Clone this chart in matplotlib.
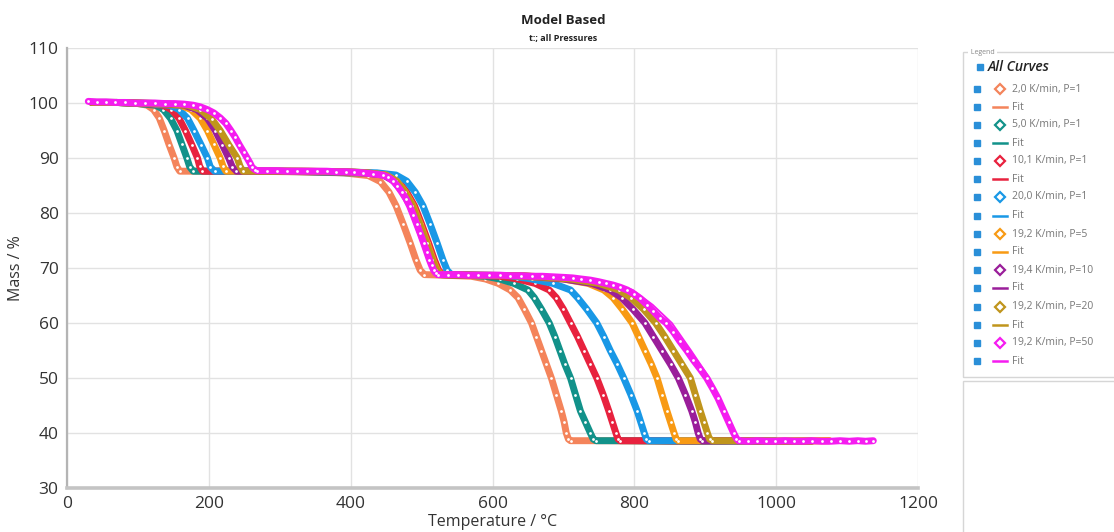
import matplotlib
matplotlib.use("Agg")
import matplotlib.pyplot as plt
from matplotlib.lines import Line2D
from matplotlib.patches import Rectangle

plt.rcParams["font.family"] = ["Open Sans", "DejaVu Sans"]

W, H = 1114, 532

# ── data (temperature °C, mass %) ───────────────────────────────────────────
T_2K_P1 = [35, 70, 100, 113, 122, 130, 137, 144, 151, 155, 159, 190, 250, 320, 390,
           425, 442, 454, 464, 474, 484, 492, 498, 504, 530,
           570, 590, 608, 625, 636, 645, 655, 662, 669, 676, 683, 690, 697, 701, 704, 707, 710,
           760, 850, 950, 1075]
M_2K_P1 = [100.1, 100.1, 99.9, 99.6, 98.8, 97.3, 95.0, 92.4, 90.0, 88.4, 87.6, 87.6, 87.6, 87.5, 87.3,
           86.8, 85.7, 83.8, 81.3, 78.0, 74.5, 71.5, 69.6, 68.8, 68.7,
           68.5, 68.0, 67.2, 66.0, 64.6, 62.5, 60.0, 57.5, 55.0, 52.5, 50.0, 47.0, 44.0, 42.0, 40.0, 38.9, 38.6,
           38.6, 38.5, 38.5, 38.6]

T_5K_P1 = [35, 70, 100, 125, 136, 146, 155, 162, 169, 173, 178, 210, 270, 340, 395,
           422, 449, 464, 476, 487, 497, 507, 515, 521, 527, 560,
           590, 610, 630, 650, 659, 669, 680, 688, 695, 702, 710, 717, 724, 731, 738, 742, 746,
           790, 880, 1000]
M_5K_P1 = [100.1, 100.1, 99.9, 99.6, 98.8, 97.2, 95.0, 92.5, 90.0, 88.4, 87.6, 87.6, 87.6, 87.5, 87.3,
           87.3, 86.9, 85.8, 83.8, 81.3, 78.0, 74.5, 71.5, 69.6, 68.8, 68.7,
           68.5, 68.0, 67.2, 66.0, 64.6, 62.5, 60.0, 57.5, 55.0, 52.5, 50.0, 47.0, 44.0, 42.0, 40.0, 38.9, 38.6,
           38.6, 38.5, 38.5]

T_10K_P1 = [35, 70, 110, 135, 147, 158, 167, 176, 184, 187, 191, 230, 290, 350, 400,
            425, 452, 467, 479, 490, 500, 510, 518, 524, 530, 570,
            610, 635, 660, 680, 690, 700, 710, 720, 729, 738, 747, 756, 764, 769, 774, 777, 780,
            830, 910, 1000]
M_10K_P1 = [100.1, 100.1, 99.9, 99.6, 98.8, 97.2, 95.0, 92.4, 90.0, 88.5, 87.6, 87.6, 87.6, 87.5, 87.4,
            87.3, 86.9, 85.8, 83.8, 81.3, 78.0, 74.5, 71.5, 69.6, 68.8, 68.7,
            68.5, 68.0, 67.2, 66.0, 64.6, 62.5, 60.0, 57.5, 55.0, 52.5, 50.0, 47.0, 44.0, 42.0, 40.0, 38.9, 38.6,
            38.6, 38.5, 38.5]

T_20K_P1 = [35, 70, 115, 145, 158, 170, 179, 189, 198, 202, 208, 240, 300, 360, 410,
            437, 464, 479, 491, 502, 512, 522, 530, 536, 542, 580,
            625, 655, 685, 710, 720, 733, 747, 757, 766, 776, 785, 795, 804, 809, 814, 817, 820,
            870, 940, 1000]
M_20K_P1 = [100.1, 100.1, 99.9, 99.6, 98.8, 97.2, 95.0, 92.4, 90.0, 88.4, 87.6, 87.6, 87.6, 87.5, 87.4,
            87.3, 86.9, 85.8, 83.8, 81.3, 78.0, 74.5, 71.5, 69.6, 68.8, 68.7,
            68.6, 68.0, 67.2, 66.0, 64.6, 62.5, 60.0, 57.5, 55.0, 52.5, 50.0, 47.0, 44.0, 42.0, 40.0, 38.9, 38.6,
            38.6, 38.5, 38.5]

T_19K_P5 = [35, 70, 120, 160, 175, 188, 198, 207, 216, 220, 224, 260, 320, 380, 410,
            423, 450, 465, 477, 488, 498, 508, 516, 522, 528, 570,
            630, 700, 735, 757, 770, 783, 797, 806, 815, 824, 832, 839, 846, 851, 856, 859, 862,
            920, 1000, 1075]
M_19K_P5 = [100.1, 100.1, 99.9, 99.6, 98.8, 97.2, 95.0, 92.5, 90.0, 88.5, 87.6, 87.6, 87.6, 87.5, 87.4,
            87.3, 86.9, 85.8, 83.8, 81.3, 78.0, 74.5, 71.5, 69.6, 68.8, 68.7,
            68.6, 68.0, 67.2, 66.0, 64.6, 62.5, 60.0, 57.5, 55.0, 52.5, 50.0, 47.0, 44.0, 42.0, 40.0, 38.9, 38.6,
            38.6, 38.5, 38.6]

T_19K_P10 = [35, 70, 125, 165, 183, 198, 209, 219, 228, 233, 239, 270, 330, 380, 405,
             419, 446, 461, 473, 484, 494, 504, 512, 518, 524, 570,
             640, 700, 740, 766, 782, 798, 815, 827, 839, 851, 862, 872, 881, 886, 890, 893, 896,
             950, 1000, 1050]
M_19K_P10 = [100.1, 100.1, 99.9, 99.6, 98.8, 97.2, 95.0, 92.4, 90.0, 88.4, 87.6, 87.6, 87.6, 87.5, 87.4,
             87.3, 86.9, 85.8, 83.8, 81.3, 78.0, 74.5, 71.5, 69.6, 68.8, 68.7,
             68.6, 68.0, 67.2, 66.0, 64.6, 62.5, 60.0, 57.5, 55.0, 52.5, 50.0, 47.0, 44.0, 42.0, 40.0, 38.9, 38.6,
             38.6, 38.5, 38.5]

T_19K_P20 = [35, 70, 130, 170, 188, 204, 216, 228, 240, 244, 248, 280, 340, 390, 410,
             422, 449, 464, 476, 487, 497, 507, 515, 521, 527, 570,
             645, 710, 750, 778, 795, 813, 830, 843, 855, 867, 879, 886, 893, 898, 903, 906, 910,
             960, 1010, 1050]
M_19K_P20 = [100.1, 100.1, 99.9, 99.6, 98.8, 97.1, 95.0, 92.4, 90.0, 88.5, 87.6, 87.6, 87.6, 87.5, 87.4,
             87.3, 86.9, 85.8, 83.8, 81.3, 78.0, 74.5, 71.5, 69.6, 68.8, 68.7,
             68.6, 68.0, 67.2, 66.0, 64.6, 62.5, 60.0, 57.5, 55.0, 52.5, 50.0, 47.0, 44.0, 42.0, 40.0, 38.9, 38.6,
             38.6, 38.5, 38.5]

T_19K_P50 = [30, 42, 55, 68, 82, 96, 110, 124, 138, 152, 165, 178, 188, 198, 207, 216, 224,
             231, 237, 243, 249, 254, 258, 261, 265, 268,
             282, 296, 310, 324, 338, 352, 366, 380, 393, 405, 418, 432, 445, 453, 460, 466,
             472, 478, 483, 488, 493, 498, 503, 507, 511, 514, 517, 520, 523,
             537, 551, 565, 580, 595, 610, 625, 640, 655, 670, 685, 700, 713, 725, 738, 750,
             760, 770, 780, 790, 799, 808, 818, 827, 836, 845, 855, 864, 874, 883, 893, 902,
             910, 918, 926, 933, 940, 944, 947,
             960, 973, 986, 999, 1012, 1025, 1038, 1051, 1064, 1077, 1090, 1103, 1115, 1126, 1137]
M_19K_P50 = [100.3, 100.2, 100.2, 100.1, 100.1, 100.0, 100.0, 100.0, 99.9, 99.9, 99.8, 99.6, 99.3, 98.8, 98.2, 97.3, 96.3,
             95.0, 93.8, 92.4, 91.1, 90.0, 89.1, 88.3, 87.9, 87.7,
             87.7, 87.7, 87.6, 87.6, 87.6, 87.6, 87.6, 87.5, 87.5, 87.4, 87.3, 87.1, 86.9, 86.5, 85.8, 84.9,
             83.8, 82.6, 81.3, 79.7, 78.0, 76.3, 74.5, 73.0, 71.5, 70.5, 69.6, 69.1, 68.8,
             68.8, 68.8, 68.7, 68.7, 68.7, 68.7, 68.6, 68.6, 68.5, 68.5, 68.4, 68.3, 68.2, 68.0, 67.8, 67.5,
             67.2, 66.9, 66.5, 66.0, 65.3, 64.5, 63.3, 62.1, 60.9, 60.0, 58.4, 56.7, 55.0, 53.3, 51.6, 50.0,
             48.2, 46.3, 44.0, 42.0, 40.0, 39.0, 38.6,
             38.5, 38.6, 38.5, 38.5, 38.6, 38.5, 38.5, 38.6, 38.5, 38.5, 38.6, 38.5, 38.6, 38.5, 38.6]

# fit of the P=50 run (runs slightly above the points in the last step)
T_FIT_P50 = [700, 725, 750, 775, 798, 826, 853, 880, 906, 928, 941, 947]
M_FIT_P50 = [68.5, 68.2, 67.7, 67.0, 66.0, 63.3, 60.0, 55.0, 50.0, 44.0, 40.0, 38.6]

LABELS = ["2,0 K/min, P=1", "5,0 K/min, P=1", "10,1 K/min, P=1", "20,0 K/min, P=1",
          "19,2 K/min, P=5", "19,4 K/min, P=10", "19,2 K/min, P=20", "19,2 K/min, P=50"]
COLORS = ["#f4845b", "#12928a", "#e8223e", "#1998e6",
          "#f89a14", "#9a1e9a", "#c0951c", "#f51cf0"]
SERIES = [(T_2K_P1, M_2K_P1), (T_5K_P1, M_5K_P1), (T_10K_P1, M_10K_P1), (T_20K_P1, M_20K_P1),
          (T_19K_P5, M_19K_P5), (T_19K_P10, M_19K_P10), (T_19K_P20, M_19K_P20), (T_19K_P50, M_19K_P50)]

X_TICKS = [0, 200, 400, 600, 800, 1000, 1200]
Y_TICKS = [30, 40, 50, 60, 70, 80, 90, 100, 110]


def fx(x):
    return x / W


def fy(y):
    return 1 - y / H


fig = plt.figure(figsize=(W / 100, H / 100), dpi=100)
ax = fig.add_axes([fx(67), fy(488), fx(918) - fx(67), fy(48) - fy(488)])

for i, ((t, m), c) in enumerate(zip(SERIES, COLORS)):
    # fit line underneath, then thick band of hollow markers
    if i == len(SERIES) - 1:
        ax.plot(T_FIT_P50, M_FIT_P50, color=c, lw=1.3, zorder=2 + 2 * i)
    ax.plot(t, m, color=c, lw=1.3, zorder=2 + 2 * i)
    ax.plot(t, m, color=c, lw=5.0, solid_joinstyle="round", solid_capstyle="round",
            marker="o", ms=2.0, mfc="white", mec="white", mew=0, zorder=3 + 2 * i)

ax.set_xlim(0, 1200)
ax.set_ylim(30, 110)
ax.set_xticks(X_TICKS)
ax.set_yticks(Y_TICKS)
ax.tick_params(length=0, labelsize=12.5, labelcolor="#333333", pad=6)
ax.grid(True, color="#e2e2e2", lw=1)
ax.set_axisbelow(True)
for s in ("top", "right"):
    ax.spines[s].set_visible(False)
ax.spines["left"].set_color("#b4b4b4")
ax.spines["left"].set_linewidth(1.6)
ax.spines["bottom"].set_color("#c4c4c4")
ax.spines["bottom"].set_linewidth(2.6)
ax.set_xlabel("Temperature / °C", fontsize=11.5, color="#333333", labelpad=1)
ax.set_ylabel("Mass / %", fontsize=11.5, color="#333333", labelpad=3)

fig.text(fx(563), fy(21), "Model Based", ha="center", va="center",
         fontsize=9.5, fontweight="bold", color="#222222")
fig.text(fx(563), fy(38), "t:; all Pressures", ha="center", va="center",
         fontsize=6.5, fontweight="bold", color="#222222")

# ── legend panel ─────────────────────────────────────────────────────────────
fig.add_artist(Rectangle((fx(963), fy(377)), fx(W + 5) - fx(963), fy(52) - fy(377),
                         transform=fig.transFigure, fill=False, ec="#d6d6d6", lw=1))
fig.add_artist(Rectangle((fx(963), fy(H + 5)), fx(W + 5) - fx(963), fy(381) - fy(H + 5),
                         transform=fig.transFigure, fill=False, ec="#d6d6d6", lw=1))
fig.text(fx(969), fy(52), " Legend ", fontsize=5, color="#888888", va="center",
         bbox=dict(fc="white", ec="none", pad=0.5))

SQUARE = "#2a8fd8"
fig.add_artist(Line2D([fx(980)], [fy(67)], transform=fig.transFigure, marker="s",
                      ms=4.5, color=SQUARE, lw=0))
fig.text(fx(988), fy(67), "All Curves", fontsize=10, style="italic", fontweight="semibold",
         color="#222222", va="center")

row_y = [89, 107, 125, 143, 161, 179, 197, 216, 234, 252, 270, 288, 307, 325, 343, 361]
for i, (lab, c) in enumerate(zip(LABELS, COLORS)):
    for j in range(2):
        y = row_y[2 * i + j]
        fig.add_artist(Line2D([fx(977)], [fy(y)], transform=fig.transFigure, marker="s",
                              ms=4, color=SQUARE, lw=0))
        if j == 0:
            fig.add_artist(Line2D([fx(1000)], [fy(y)], transform=fig.transFigure,
                                  marker="D", ms=5, mfc="white", mec=c, mew=1.6, lw=0))
            fig.text(fx(1012), fy(y), lab, fontsize=7.5, color="#777777", va="center")
        else:
            fig.add_artist(Line2D([fx(993), fx(1007)], [fy(y), fy(y)],
                                  transform=fig.transFigure, color=c, lw=1.8))
            fig.text(fx(1012), fy(y), "Fit", fontsize=7.5, color="#777777", va="center")

fig.savefig("out.png", dpi=100)
